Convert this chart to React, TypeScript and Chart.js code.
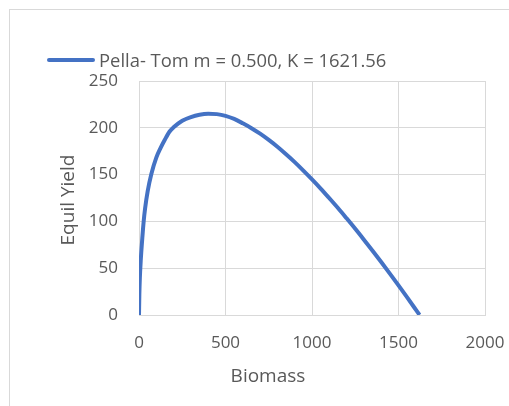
import React, { useEffect, useRef } from "react";
import { Chart, registerables } from "chart.js";

Chart.register(...registerables);

const seriesLabel = "Pella- Tom m = 0.500, K = 1621.56";
const xTitle = "Biomass";
const yTitle = "Equil Yield";

const biomass = [
  0, 2, 5, 10, 20, 27, 35, 50, 71, 100, 125, 150, 177, 200, 250, 300, 350, 400,
  450, 500, 550, 600, 650, 700, 750, 800, 850, 900, 950, 1000, 1050, 1100, 1150,
  1200, 1250, 1300, 1350, 1400, 1450, 1500, 1550, 1600, 1621.56,
];
const equilYield = [
  0, 22, 40, 58, 84.4, 100, 113.5, 132, 150.3, 168.1, 178.5, 187.5, 196, 200.5,
  207.5, 211.5, 214, 215, 214.6, 212.8, 209.5, 204.8, 199.6, 193.7, 187.0,
  179.7, 171.7, 163.3, 154.3, 144.9, 135.1, 124.8, 114.3, 103.3, 92.1, 80.5,
  68.7, 56.6, 44.2, 31.6, 18.8, 5.7, 0,
];

const xMin = 0;
const xMax = 2000;
const xStep = 500;
const yMin = 0;
const yMax = 250;
const yStep = 50;

const LINE_COLOR = "#4472C4";
const TEXT_COLOR = "#595959";
const GRID_COLOR = "#d9d9d9";
const FONT = '"Open Sans", sans-serif';

const overlayPlugin = {
  id: "overlay",
  afterDraw(chart: any) {
    const ctx = chart.ctx;
    const area = chart.chartArea;
    ctx.save();
    // legend
    ctx.strokeStyle = LINE_COLOR;
    ctx.lineWidth = 4;
    ctx.lineCap = "round";
    ctx.beginPath();
    ctx.moveTo(49, 60);
    ctx.lineTo(93, 60);
    ctx.stroke();
    ctx.fillStyle = TEXT_COLOR;
    ctx.font = `18.4px ${FONT}`;
    ctx.textAlign = "left";
    ctx.textBaseline = "alphabetic";
    ctx.fillText(seriesLabel, 99, 67);
    // x title
    ctx.font = `19px ${FONT}`;
    ctx.textAlign = "center";
    ctx.fillText(xTitle, 268, 382);
    // y title
    ctx.translate(74, (area.top + area.bottom) / 2 + 2);
    ctx.rotate(-Math.PI / 2);
    ctx.fillText(yTitle, 0, 0);
    ctx.restore();
  },
};

export default function App() {
  const ref = useRef<HTMLCanvasElement>(null);
  useEffect(() => {
    if (!ref.current) return;
    const points = biomass.map((b, i) => ({ x: b, y: equilYield[i] }));
    const chart = new Chart(ref.current, {
      type: "scatter",
      data: {
        datasets: [
          {
            label: seriesLabel,
            data: points,
            showLine: true,
            borderColor: LINE_COLOR,
            backgroundColor: LINE_COLOR,
            borderWidth: 4,
            pointRadius: 0,
            cubicInterpolationMode: "monotone",
          },
        ],
      },
      options: {
        animation: false,
        responsive: false,
        devicePixelRatio: 1,
        layout: { padding: { left: 0, top: 81, right: 24, bottom: 0 } },
        plugins: {
          legend: { display: false },
          tooltip: { enabled: false },
        },
        scales: {
          x: {
            type: "linear",
            min: xMin,
            max: xMax,
            ticks: {
              stepSize: xStep,
              color: TEXT_COLOR,
              font: { family: FONT, size: 17 },
              padding: 18,
              maxRotation: 0,
              callback: (v: any) => String(v),
            },
            grid: { color: GRID_COLOR, lineWidth: 1, drawTicks: false },
            border: { color: GRID_COLOR, width: 1 },
            afterFit: (s: any) => {
              s.height = 91;
              s.paddingLeft = 0;
              s.paddingRight = 0;
            },
          },
          y: {
            type: "linear",
            min: yMin,
            max: yMax,
            ticks: {
              stepSize: yStep,
              color: TEXT_COLOR,
              font: { family: FONT, size: 17 },
              padding: 21,
              callback: (v: any) => String(v),
            },
            grid: { color: GRID_COLOR, lineWidth: 1, drawTicks: false },
            border: { color: GRID_COLOR, width: 1 },
            afterFit: (s: any) => {
              s.width = 139;
              s.paddingTop = 0;
              s.paddingBottom = 0;
            },
          },
        },
      },
      plugins: [overlayPlugin],
    });
    return () => chart.destroy();
  }, []);

  return (
    <div
      style={{
        position: "absolute",
        left: 0,
        top: 0,
        width: 509,
        height: 406,
        overflow: "hidden",
        background: "#ffffff",
      }}
    >
      <div
        style={{
          position: "absolute",
          left: 9,
          top: 9,
          width: 560,
          height: 460,
          border: "1px solid #d9d9d9",
        }}
      />
      <canvas
        ref={ref}
        width={509}
        height={406}
        style={{ position: "absolute", left: 0, top: 0, width: 509, height: 406 }}
      />
    </div>
  );
}
